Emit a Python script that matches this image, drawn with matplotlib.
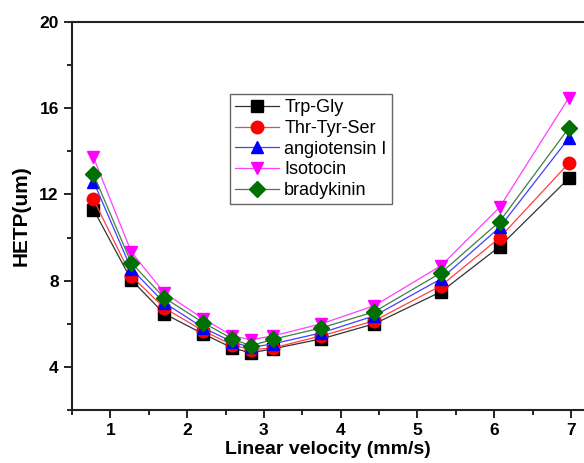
import matplotlib
matplotlib.use("Agg")
import matplotlib.pyplot as plt
from matplotlib.ticker import MultipleLocator

# linear velocity (mm/s)
velocity = [0.78, 1.27, 1.70, 2.21, 2.59, 2.83, 3.12, 3.75, 4.44, 5.31, 6.07, 6.97]

# HETP (um) per compound
trp_gly = [11.30, 8.05, 6.47, 5.53, 4.88, 4.65, 4.84, 5.30, 6.00, 7.49, 9.58, 12.74]
thr_tyr_ser = [11.77, 8.23, 6.74, 5.67, 5.02, 4.79, 4.88, 5.44, 6.14, 7.77, 9.99, 13.44]
angiotensin = [12.60, 8.56, 6.98, 5.81, 5.16, 4.90, 5.07, 5.58, 6.37, 8.09, 10.47, 14.60]
isotocin = [13.72, 9.35, 7.44, 6.23, 5.44, 5.26, 5.44, 6.00, 6.84, 8.70, 11.40, 16.47]
bradykinin = [12.93, 8.84, 7.21, 6.05, 5.30, 4.98, 5.28, 5.81, 6.56, 8.37, 10.74, 15.07]

series = [
    ("Trp-Gly", trp_gly, "black", "s"),
    ("Thr-Tyr-Ser", thr_tyr_ser, "red", "o"),
    ("angiotensin I", angiotensin, "blue", "^"),
    ("Isotocin", isotocin, "magenta", "v"),
    ("bradykinin", bradykinin, "green", "D"),
]
line_colors = {"black": "#333333", "red": "#ff4040", "blue": "#4040ff",
               "magenta": "#ff40ff", "green": "#408040"}
marker_colors = {"black": "black", "red": "red", "blue": "blue",
                 "magenta": "magenta", "green": "#007000"}

plt.rcParams["font.family"] = ["Liberation Sans", "DejaVu Sans"]

fig = plt.figure(figsize=(5.84, 4.63), dpi=100)
ax = fig.add_axes([72 / 584, 53 / 463, 512 / 584, 388 / 463])

for name, vals, c, m in series:
    ms = 8 if m == "D" else 9
    ax.plot(velocity, vals, color=line_colors[c], lw=0.9, marker=m, ms=ms,
            markerfacecolor=marker_colors[c], markeredgecolor=marker_colors[c],
            label=name)

ax.set_xlim(0.5, 7.17)
ax.set_ylim(2, 20)
ax.xaxis.set_major_locator(MultipleLocator(1))
ax.xaxis.set_minor_locator(MultipleLocator(0.5))
ax.yaxis.set_major_locator(MultipleLocator(4))
ax.yaxis.set_minor_locator(MultipleLocator(2))
ax.tick_params(which="major", direction="out", length=6, width=1.2, labelsize=12.5)
ax.tick_params(which="minor", direction="out", length=3.5, width=1.2)
ax.set_yticks([4, 8, 12, 16, 20])
for lbl in ax.get_xticklabels() + ax.get_yticklabels():
    lbl.set_fontweight("bold")

ax.spines["right"].set_visible(False)
for s in ("left", "bottom", "top"):
    ax.spines[s].set_linewidth(1.5)
    ax.spines[s].set_color("#222222")

ax.set_xlabel("Linear velocity (mm/s)", fontsize=14, fontweight="bold", labelpad=2)
ax.set_ylabel("HETP(um)", fontsize=15, fontweight="bold", labelpad=6)

leg = ax.legend(loc="upper left", bbox_to_anchor=(230 / 584, 1 - 94 / 463),
                bbox_transform=fig.transFigure, fontsize=13, fancybox=False,
                edgecolor="#666666", framealpha=1, handlelength=2.4,
                borderpad=0.3, labelspacing=0.2, handletextpad=0.3,
                borderaxespad=0)
leg.get_frame().set_linewidth(1.0)

fig.savefig("out.png", dpi=100)
